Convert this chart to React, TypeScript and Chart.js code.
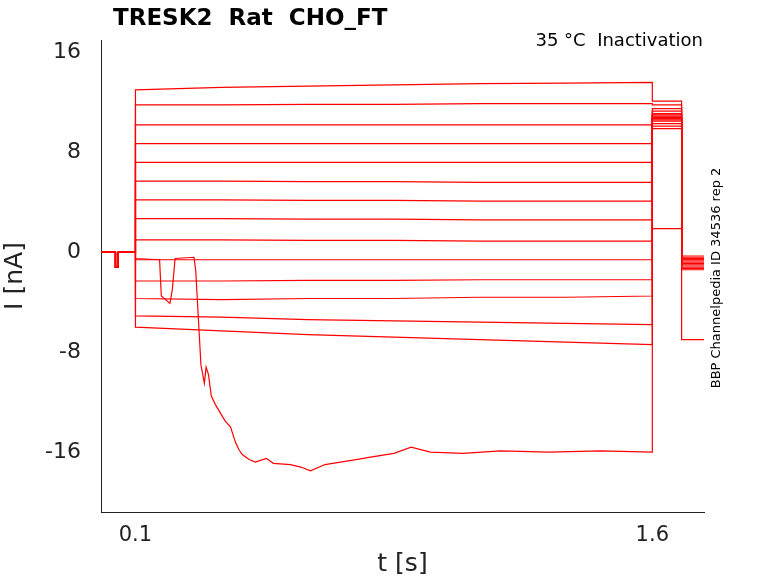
import { useEffect, useRef } from 'react';
import { Chart, registerables } from 'chart.js';

Chart.register(...registerables);

// pre-pulse segment (shared by all sweeps)
const preTimes = [0, 0.042, 0.042, 0.05, 0.05, 0.1];
const preValues = [0, 0, -1.2, -1.2, 0, 0];

// step segment 0.1 -> 1.6
const stepTimes = [0.1, 0.35, 0.6, 0.85, 1.1, 1.35, 1.6];
const stepLevels = [
  [13.0, 13.2, 13.3, 13.4, 13.5, 13.55, 13.6],
  [11.8, 11.8, 11.85, 11.85, 11.9, 11.9, 11.9],
  [10.2, 10.2, 10.2, 10.2, 10.2, 10.2, 10.2],
  [8.7, 8.7, 8.7, 8.7, 8.7, 8.7, 8.7],
  [7.2, 7.2, 7.2, 7.2, 7.2, 7.2, 7.2],
  [5.7, 5.7, 5.65, 5.65, 5.6, 5.6, 5.6],
  [4.2, 4.2, 4.15, 4.15, 4.1, 4.1, 4.1],
  [2.7, 2.7, 2.65, 2.65, 2.6, 2.6, 2.6],
  [1.0, 1.0, 0.95, 0.95, 0.9, 0.9, 0.9],
  [-0.6, -0.6, -0.6, -0.6, -0.6, -0.6, -0.6],
  [-2.3, -2.3, -2.25, -2.25, -2.2, -2.2, -2.2],
  [-3.7, -3.8, -3.7, -3.7, -3.6, -3.6, -3.5],
  [-5.1, -5.2, -5.4, -5.5, -5.6, -5.7, -5.8],
  [-6.0, -6.3, -6.6, -6.8, -7.0, -7.2, -7.4],
];

// post-pulse levels (1.6 -> 1.685) and tail (1.685 -> 1.75)
const postLevels = [12.1, 11.8, 11.5, 11.3, 11.1, 10.9, 10.7, 10.5, 10.3, 10.1, 9.9, 10.8, 11.0, 10.6];
const tailLevels = [-0.4, -0.6, -0.8, -1.0, -1.2, -1.4, -0.5, -0.7, -0.9, -1.1, -1.3, -0.3, -0.6, -0.9];

// sweep with the large inward current
const bigTimes = [0, 0.042, 0.042, 0.05, 0.05, 0.1, 0.1, 0.17, 0.175, 0.2, 0.207, 0.215, 0.27, 0.275, 0.285, 0.29, 0.3, 0.305, 0.312, 0.32, 0.332, 0.345, 0.36, 0.376, 0.39, 0.4, 0.41, 0.43, 0.448, 0.48, 0.5, 0.55, 0.58, 0.608, 0.65, 0.695, 0.74, 0.782, 0.85, 0.9, 0.956, 1.05, 1.159, 1.3, 1.45, 1.6, 1.6, 1.685, 1.685, 1.75];
const bigValues = [0, 0, -1.2, -1.2, 0, 0, -0.5, -0.6, -3.5, -4.1, -3.0, -0.5, -0.4, -1.5, -6.5, -9.0, -10.5, -9.2, -9.8, -11.5, -12.2, -12.8, -13.5, -14.0, -15.2, -15.8, -16.2, -16.6, -16.8, -16.5, -16.9, -17.0, -17.2, -17.5, -17.0, -16.8, -16.6, -16.4, -16.1, -15.6, -16.0, -16.1, -15.9, -16.0, -15.9, -16.0, 1.9, 1.9, -7.0, -7.0];

export default function App() {
  const ref = useRef<HTMLCanvasElement>(null);

  useEffect(() => {
    if (!ref.current) return;
    const red = '#ff0000';
    const datasets: any[] = stepLevels.map((lv, i) => {
      const pts: { x: number; y: number }[] = [];
      preTimes.forEach((t, j) => pts.push({ x: t, y: preValues[j] }));
      stepTimes.forEach((t, j) => pts.push({ x: t, y: lv[j] }));
      pts.push({ x: 1.6, y: postLevels[i] }, { x: 1.685, y: postLevels[i] });
      pts.push({ x: 1.685, y: tailLevels[i] }, { x: 1.75, y: tailLevels[i] });
      return { data: pts, borderColor: red, borderWidth: 1.2, pointRadius: 0, showLine: true };
    });
    datasets.push({
      data: bigTimes.map((t, j) => ({ x: t, y: bigValues[j] })),
      borderColor: red, borderWidth: 1.2, pointRadius: 0, showLine: true,
    });

    const textPlugin = {
      id: 'texts',
      afterDraw(c: Chart) {
        const ctx = c.ctx;
        ctx.save();
        ctx.fillStyle = '#000';
        ctx.font = 'bold 23px "DejaVu Sans"';
        ctx.textBaseline = 'middle';
        ctx.fillText('TRESK2  Rat  CHO_FT', 113, 19);
        ctx.font = '18px "DejaVu Sans"';
        ctx.textAlign = 'right';
        ctx.fillText('35 °C  Inactivation', 703, 41);
        ctx.translate(717, 278);
        ctx.rotate(-Math.PI / 2);
        ctx.textAlign = 'center';
        ctx.font = '13px "DejaVu Sans"';
        ctx.fillText('BBP Channelpedia ID 34536 rep 2', 0, 0);
        ctx.restore();
      },
    };

    const chart = new Chart(ref.current, {
      type: 'scatter',
      data: { datasets },
      plugins: [textPlugin],
      options: {
        animation: false,
        responsive: false,
        plugins: { legend: { display: false }, tooltip: { enabled: false } },
        layout: { padding: { left: 0, right: 74, top: 40, bottom: 0 } },
        scales: {
          x: {
            type: 'linear', min: 0, max: 1.75,
            grid: { display: false },
            border: { display: true, color: '#222' },
            afterBuildTicks: (s: any) => { s.ticks = [{ value: 0.1 }, { value: 1.6 }]; },
            ticks: { color: '#222', font: { size: 21, family: 'DejaVu Sans' }, callback: (v: any) => String(v) },
            title: { display: true, text: 't [s]', color: '#222', font: { size: 25, family: 'DejaVu Sans' } },
            afterFit: (s: any) => { s.height = 71; },
          },
          y: {
            type: 'linear', min: -20.8, max: 17,
            grid: { display: false },
            border: { display: true, color: '#222' },
            afterBuildTicks: (s: any) => { s.ticks = [-16, -8, 0, 8, 16].map(v => ({ value: v })); },
            ticks: { color: '#222', font: { size: 22, family: 'DejaVu Sans' }, padding: 12, callback: (v: any) => String(v) },
            title: { display: true, text: 'I [nA]', color: '#222', font: { size: 25, family: 'DejaVu Sans' }, padding: { top: 0, bottom: 10 } },
            afterFit: (s: any) => { s.width = 101; },
          },
        },
      },
    });
    return () => chart.destroy();
  }, []);

  return (
    <div style={{ position: 'fixed', left: 0, top: 0, width: 778, height: 583, background: '#fff' }}>
      <canvas ref={ref} width={778} height={583} style={{ width: 778, height: 583 }} />
    </div>
  );
}
